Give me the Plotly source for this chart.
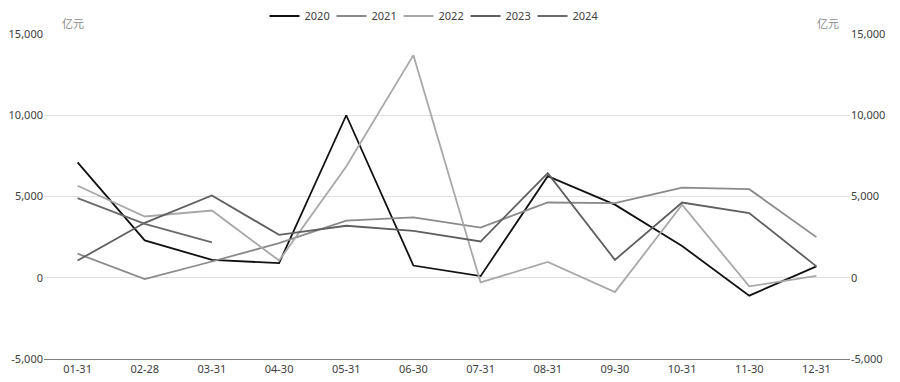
import plotly.graph_objects as go

categories = ["01-31", "02-28", "03-31", "04-30", "05-31", "06-30",
              "07-31", "08-31", "09-30", "10-31", "11-30", "12-31"]

y2020 = [7100, 2300, 1100, 900, 10000, 750, 100, 6250, 4500, 1950, -1100, 700]
y2021 = [1480, -80, 1000, 2130, 3520, 3710, 3090, 4630, 4590, 5550, 5450, 2500]
y2022 = [5660, 3770, 4140, 1060, 6850, 13700, -290, 970, -880, 4490, -530, 120]
y2023 = [1060, 3380, 5060, 2640, 3200, 2890, 2230, 6440, 1100, 4630, 3980, 700]
y2024 = [4900, 3320, 2170]

series = [
    ("2020", y2020, "#111111"),
    ("2021", y2021, "#8a8a8a"),
    ("2022", y2022, "#a8a8a8"),
    ("2023", y2023, "#5f5f5f"),
    ("2024", y2024, "#6a6a6a"),
]

tick_vals = [-5000, 0, 5000, 10000, 15000]
tick_text = ["-5,000", "0", "5,000", "10,000", "15,000"]

fig = go.Figure()
for name, vals, color in series:
    fig.add_trace(go.Scatter(
        x=categories[:len(vals)], y=vals, name=name, mode="lines",
        line=dict(color=color, width=1.8),
    ))

# invisible trace so the right axis is drawn
fig.add_trace(go.Scatter(x=categories, y=[None]*len(categories), yaxis="y2",
                         showlegend=False, hoverinfo="skip", mode="lines"))

font_family = "Noto Sans, DejaVu Sans, sans-serif"
W, H = 900, 382
ML, MR, MT, MB = 44, 50, 34, 23

fig.update_layout(
    width=W, height=H,
    margin=dict(l=ML, r=MR, t=MT, b=MB, autoexpand=False),
    plot_bgcolor="white", paper_bgcolor="white",
    font=dict(family=font_family, size=11, color="#404040"),
    showlegend=True,
    legend=dict(orientation="h", x=(432 - ML) / (W - ML - MR), xanchor="center",
                y=1 - 16 / H, yanchor="middle", yref="container",
                font=dict(size=11, color="#404040"),
                itemwidth=30, entrywidth=22, entrywidthmode="pixels",
                bgcolor="rgba(0,0,0,0)"),
    xaxis=dict(type="category", range=[-0.5, 11.5], showgrid=False,
               showline=True, linecolor="#7f7f7f", linewidth=1,
               ticks="", tickfont=dict(size=11, color="#404040"),
               automargin=False),
    yaxis=dict(range=[-5000, 15000], tickvals=tick_vals, ticktext=tick_text,
               showgrid=True, gridcolor="#e0e0e0", gridwidth=1,
               zeroline=False, showline=False, ticks="",
               tickfont=dict(size=11, color="#404040"), automargin=False),
    yaxis2=dict(range=[-5000, 15000], tickvals=tick_vals, ticktext=tick_text,
                overlaying="y", side="right", showgrid=False, zeroline=False,
                showline=False, ticks="", tickfont=dict(size=11, color="#404040"),
                automargin=False),
)

plot_w = W - ML - MR
plot_h = H - MT - MB
def px_to_paper(xp, yp):
    return (xp - ML) / plot_w, (H - MB - yp) / plot_h

lx, ly = px_to_paper(60, 13)
rx, ry = px_to_paper(841, 13)
for ax_x, ax_y in [(lx, ly), (rx, ry)]:
    fig.add_annotation(text="亿元", x=ax_x, y=ax_y, xref="paper", yref="paper",
                       showarrow=False,
                       font=dict(size=11, color="#8a8a8a", family="Noto Sans CJK SC"))

fig.write_html("out.html", config={"displayModeBar": False},
               post_script="document.body.style.margin='0';")
